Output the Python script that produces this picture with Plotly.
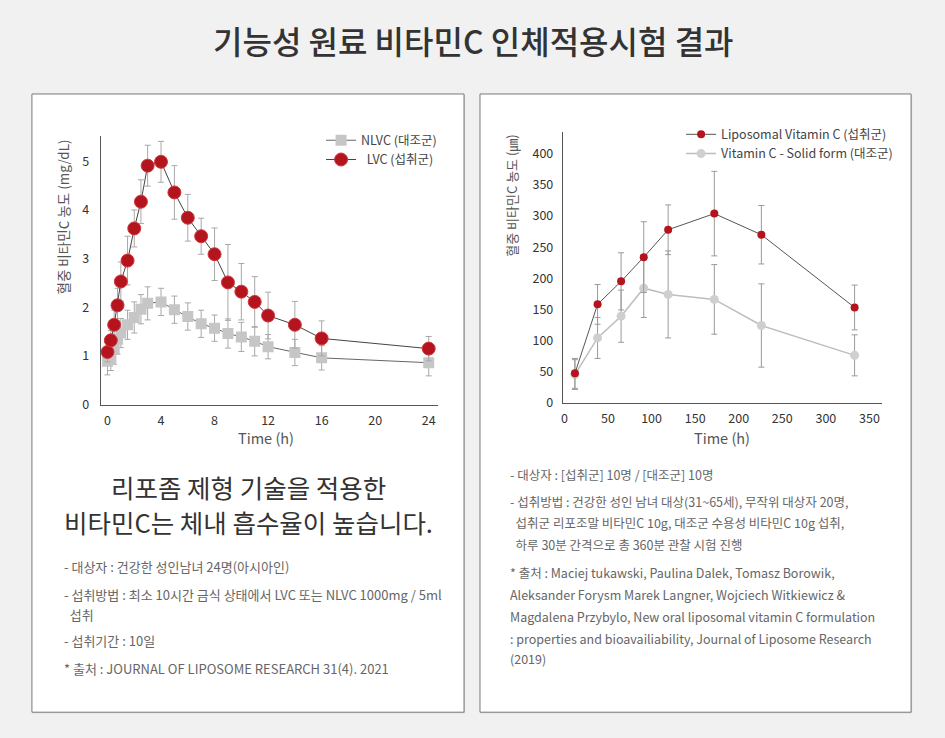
import plotly.graph_objects as go

W, H = 945, 738
FONT = "Noto Sans CJK KR"

# ---------------- data: left chart ----------------
pk_time = [0, 0.25, 0.5, 0.75, 1, 1.5, 2, 2.5, 3, 4, 5, 6, 7, 8, 9, 10, 11, 12, 14, 16, 24]
lvc_conc = [1.08, 1.32, 1.64, 2.04, 2.53, 2.96, 3.62, 4.17, 4.91, 4.99, 4.36, 3.84, 3.46, 3.09,
            2.51, 2.32, 2.11, 1.83, 1.64, 1.36, 1.15]
lvc_err = [0.2, 0.2, 0.3, 0.35, 0.4, 0.5, 0.38, 0.45, 0.42, 0.42, 0.55, 0.48, 0.37, 0.54,
           0.78, 0.58, 0.52, 0.48, 0.48, 0.36, 0.25]
nlvc_conc = [0.89, 0.95, 1.13, 1.34, 1.47, 1.64, 1.79, 1.96, 2.08, 2.11, 1.95, 1.81, 1.66, 1.57,
             1.46, 1.39, 1.30, 1.19, 1.07, 0.96, 0.86]
nlvc_err = [0.28, 0.25, 0.3, 0.3, 0.3, 0.3, 0.32, 0.3, 0.34, 0.28, 0.28, 0.28, 0.28, 0.27,
            0.3, 0.3, 0.3, 0.25, 0.27, 0.25, 0.27]
left_xticks = [0, 4, 8, 12, 16, 20, 24]
left_yticks = [0, 1, 2, 3, 4, 5]

# ---------------- data: right chart ----------------
rt_time = [12, 38, 65, 91, 119, 172, 226, 333]
lipo_conc = [47, 158, 195, 234, 278, 304, 270, 153]
lipo_err = [24, 32, 46, 57, 40, 68, 47, 36]
solid_conc = [45, 104, 139, 184, 174, 166, 124, 76]
solid_err = [24, 33, 42, 47, 70, 56, 67, 33]
right_xticks = [0, 50, 100, 150, 200, 250, 300, 350]
right_yticks = [0, 50, 100, 150, 200, 250, 300, 350, 400]

# ---------------- texts ----------------
title_text = "기능성 원료 비타민C 인체적용시험 결과"
headline_lines = ["리포좀 제형 기술을 적용한", "비타민C는 체내 흡수율이 높습니다."]
left_notes = [
    "- 대상자 : 건강한 성인남녀 24명(아시아인)",
    "- 섭취방법 : 최소 10시간 금식 상태에서 LVC 또는 NLVC 1000mg / 5ml",
    "\u00a0\u00a0섭취",
    "- 섭취기간 : 10일",
    "* 출처 : JOURNAL OF LIPOSOME RESEARCH 31(4). 2021",
]
right_notes = [
    "- 대상자 : [섭취군] 10명 / [대조군] 10명",
    "- 섭취방법 : 건강한 성인 남녀 대상(31~65세), 무작위 대상자 20명,",
    "\u00a0\u00a0섭취군 리포조말 비타민C 10g, 대조군 수용성 비타민C 10g 섭취,",
    "\u00a0\u00a0하루 30분 간격으로 총 360분 관찰 시험 진행",
    "* 출처 : Maciej tukawski, Paulina Dalek, Tomasz Borowik,",
    "Aleksander Forysm Marek Langner, Wojciech Witkiewicz &",
    "Magdalena Przybylo, New oral liposomal vitamin C formulation",
    ": properties and bioavailiability, Journal of Liposome Research",
    "(2019)",
]


def px(x):
    return x / W


def py(y):
    return 1 - y / H


RED = "#b3141d"
GRAY_MK = "#c6c6c6"

fig = go.Figure()

# left chart
fig.add_trace(go.Scatter(
    x=pk_time, y=nlvc_conc, name="NLVC (대조군)", mode="lines+markers",
    line=dict(color="#666666", width=1),
    marker=dict(symbol="square", size=11, color=GRAY_MK),
    error_y=dict(type="data", array=nlvc_err, color="#a8a8a8", thickness=1, width=3),
    xaxis="x", yaxis="y", legend="legend"))
fig.add_trace(go.Scatter(
    x=pk_time, y=lvc_conc, name="\u00a0\u00a0LVC (섭취군)", mode="lines+markers",
    line=dict(color="#444444", width=1),
    marker=dict(symbol="circle", size=13, color=RED, line=dict(color="#d2373c", width=1)),
    error_y=dict(type="data", array=lvc_err, color="#a8a8a8", thickness=1, width=3),
    xaxis="x", yaxis="y", legend="legend"))

# right chart
fig.add_trace(go.Scatter(
    x=rt_time, y=solid_conc, name="Vitamin C - Solid form (대조군)", mode="lines+markers",
    line=dict(color="#bdbdbd", width=1.5),
    marker=dict(symbol="circle", size=9, color="#cfcfcf"),
    error_y=dict(type="data", array=solid_err, color="#9a9a9a", thickness=1, width=3),
    xaxis="x2", yaxis="y2", legend="legend2"))
fig.add_trace(go.Scatter(
    x=rt_time, y=lipo_conc, name="Liposomal Vitamin C (섭취군)", mode="lines+markers",
    line=dict(color="#555555", width=1),
    marker=dict(symbol="circle", size=8, color=RED),
    error_y=dict(type="data", array=lipo_err, color="#9a9a9a", thickness=1, width=3),
    xaxis="x2", yaxis="y2", legend="legend2"))

axis_common = dict(showgrid=False, zeroline=False, showline=True, linecolor="#555555",
                   linewidth=1, ticks="", tickfont=dict(family=FONT, size=12.5, color="#333333"))

shapes = []
# panel boxes (shadow + box)
for (x0, x1) in [(30, 463), (479, 911)]:
    shapes.append(dict(type="rect", xref="paper", yref="paper",
                       x0=px(x0 + 1), x1=px(x1 + 1), y0=py(721), y1=py(96),
                       line=dict(width=0), fillcolor="#cfcfcf", layer="below"))
    shapes.append(dict(type="rect", xref="paper", yref="paper",
                       x0=px(x0), x1=px(x1), y0=py(720), y1=py(95),
                       line=dict(color="#7a7a7a", width=1), fillcolor="#ffffff", layer="below"))

ann = []
ann.append(dict(text=title_text, x=px(472), y=py(40), xref="paper", yref="paper",
                showarrow=False, xanchor="center", yanchor="middle",
                font=dict(family=FONT, size=32, color="#333333", weight=500)))
# axis titles
ann.append(dict(text="Time (h)", x=px(265), y=py(442), xref="paper", yref="paper",
                showarrow=False, xanchor="center", yanchor="middle",
                font=dict(family=FONT, size=14.5, color="#555555")))
ann.append(dict(text="Time (h)", x=px(722), y=py(442), xref="paper", yref="paper",
                showarrow=False, xanchor="center", yanchor="middle",
                font=dict(family=FONT, size=14.5, color="#555555")))
ann.append(dict(text="혈중 비타민C 농도 (mg/dL)", x=px(61), y=py(219), xref="paper", yref="paper",
                showarrow=False, xanchor="center", yanchor="middle", textangle=-90,
                font=dict(family=FONT, size=13.5, color="#555555")))
ann.append(dict(text="혈중 비타민C 농도 (㎛)", x=px(511), y=py(197), xref="paper", yref="paper",
                showarrow=False, xanchor="center", yanchor="middle", textangle=-90,
                font=dict(family=FONT, size=13, color="#555555")))
# headline
for i, t in enumerate(headline_lines):
    ann.append(dict(text=t, x=px(247), y=py(492 + 35 * i), xref="paper", yref="paper",
                    showarrow=False, xanchor="center", yanchor="middle",
                    font=dict(family=FONT, size=25.5, color="#333333")))
# left notes
left_y = [573, 601, 621, 648, 676]
for t, yy in zip(left_notes, left_y):
    ann.append(dict(text=t, x=px(60), y=py(yy), xref="paper", yref="paper",
                    showarrow=False, xanchor="left", yanchor="middle", align="left",
                    font=dict(family=FONT, size=13, color="#666666")))
right_y = [480, 507, 528, 550, 579, 601, 623, 645, 666]
for t, yy in zip(right_notes, right_y):
    ann.append(dict(text=t, x=px(507), y=py(yy), xref="paper", yref="paper",
                    showarrow=False, xanchor="left", yanchor="middle",
                    font=dict(family=FONT, size=12.5, color="#666666")))

fig.update_layout(
    width=W, height=H, margin=dict(l=0, r=0, t=0, b=0),
    paper_bgcolor="#f1f1f1", plot_bgcolor="rgba(0,0,0,0)",
    font=dict(family=FONT),
    xaxis=dict(domain=[px(99), px(437)], range=[-0.5, 24.7], tickvals=left_xticks,
               anchor="y", ticklabelstandoff=4, **axis_common),
    yaxis=dict(domain=[py(409), py(137)], range=[0, 5.53], tickvals=left_yticks,
               anchor="x", ticklabelstandoff=8, **axis_common),
    xaxis2=dict(domain=[px(562), px(882)], range=[-1.9, 364.6], tickvals=right_xticks,
                anchor="y2", ticklabelstandoff=4, **axis_common),
    yaxis2=dict(domain=[py(407), py(133)], range=[0, 436], tickvals=right_yticks,
                anchor="x2", ticklabelstandoff=6, **axis_common),
    legend=dict(x=px(441), y=py(127), xanchor="right", yanchor="top",
                bgcolor="rgba(0,0,0,0)", font=dict(family=FONT, size=12.5, color="#444444"),
                tracegroupgap=0, itemwidth=30),
    legend2=dict(x=px(898), y=py(121), xanchor="right", yanchor="top", traceorder="reversed",
                 bgcolor="rgba(0,0,0,0)", font=dict(family=FONT, size=12.5, color="#444444"),
                 tracegroupgap=0, itemwidth=30),
    shapes=shapes, annotations=ann, showlegend=True,
)

fig.write_html("out.html")
